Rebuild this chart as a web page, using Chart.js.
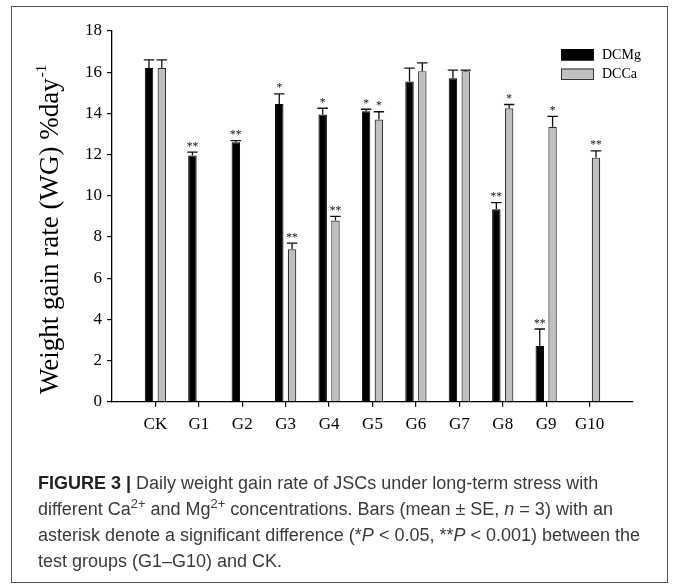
<!DOCTYPE html>
<html><head><meta charset="utf-8">
<script src="https://cdn.jsdelivr.net/npm/chart.js@4.4.1/dist/chart.umd.min.js"></script>
<style>
html,body{margin:0;padding:0;background:#fff;}
#wrap{position:relative;width:675px;height:585px;overflow:hidden;background:#fff;}
#c{position:absolute;left:0;top:0;}
#frame{position:absolute;left:11px;top:6px;width:657px;height:577px;border:1.5px solid #555;box-sizing:border-box;pointer-events:none;}
#cap{position:absolute;left:38px;top:471px;font-family:"Liberation Sans",Arial,sans-serif;font-size:18px;line-height:25.5px;color:#3a3a3a;white-space:nowrap;}
#cap b{color:#222;}
#cap sup{font-size:0.72em;vertical-align:baseline;position:relative;top:-0.5em;}
</style></head><body>
<div id="wrap">
<canvas id="c" width="675" height="585"></canvas>
<div id="frame"></div>
<div id="cap"><b>FIGURE 3 |</b> Daily weight gain rate of JSCs under long-term stress with<br>different Ca<sup>2+</sup> and Mg<sup>2+</sup> concentrations. Bars (mean ± SE, <i>n</i> = 3) with an<br>asterisk denote a significant difference (*<i>P</i> &lt; 0.05, **<i>P</i> &lt; 0.001) between the<br>test groups (G1–G10) and CK.</div>
</div>
<script>
const categories = ['CK','G1','G2','G3','G4','G5','G6','G7','G8','G9','G10'];
const dcmgValues = [16.2, 11.95, 12.6, 14.45, 13.95, 14.1, 15.55, 15.7, 9.35, 2.7, null];
const dcmgErrors = [0.4, 0.17, 0.08, 0.5, 0.3, 0.1, 0.65, 0.4, 0.32, 0.83, null];
const dcmgSig    = ['', '**', '**', '*', '*', '*', '', '', '**', '**', ''];
const dccaValues = [16.2, null, null, 7.4, 8.8, 13.7, 16.05, 16.05, 14.25, 13.35, 11.85];
const dccaErrors = [0.4, null, null, 0.3, 0.2, 0.38, 0.4, 0.05, 0.18, 0.5, 0.33];
const dccaSig    = ['', '', '', '**', '**', '*', '', '', '*', '*', '**'];
const yMin = 0, yMax = 18, yStep = 2;
const yTitle = 'Weight gain rate (WG) %day';
const yTitleSup = '-1';

const pad = a => [null, ...a, null];
const labels = ['', ...categories, ''];

const SERIF = '"Liberation Serif","Times New Roman",serif';

const errPlugin = {
  id: 'errbars',
  afterDatasetsDraw(chart) {
    const ctx = chart.ctx, ys = chart.scales.y;
    chart.data.datasets.forEach((ds, di) => {
      const meta = chart.getDatasetMeta(di);
      meta.data.forEach((bar, i) => {
        const v = ds.data[i], e = ds.errors[i];
        if (v == null || e == null) return;
        const yv = ys.getPixelForValue(v), ye = ys.getPixelForValue(v + e);
        const x = bar.x, w = bar.width + 2;
        ctx.save();
        ctx.strokeStyle = '#111'; ctx.lineWidth = 1.3;
        ctx.beginPath();
        ctx.moveTo(x, yv); ctx.lineTo(x, ye);
        ctx.moveTo(x - w/2, ye); ctx.lineTo(x + w/2, ye);
        ctx.stroke();
        const s = ds.sig[i];
        if (s) {
          ctx.fillStyle = '#111';
          ctx.font = '11.5px ' + SERIF;
          ctx.textAlign = 'center'; ctx.textBaseline = 'alphabetic';
          ctx.fillText(s, x, ye - 2.5);
        }
        ctx.restore();
      });
    });
  }
};

const decoPlugin = {
  id: 'deco',
  afterDraw(chart) {
    const ctx = chart.ctx;
    // y axis title with superscript
    ctx.save();
    ctx.translate(58, 394);
    ctx.rotate(-Math.PI/2);
    ctx.fillStyle = '#000';
    ctx.font = '27px ' + SERIF;
    ctx.textAlign = 'left'; ctx.textBaseline = 'alphabetic';
    ctx.fillText(yTitle, 0, 0);
    const w = ctx.measureText(yTitle).width;
    ctx.font = '15px ' + SERIF;
    ctx.fillText(yTitleSup, w + 1, -12);
    ctx.restore();
    // legend
    ctx.save();
    chart.data.datasets.forEach((ds, i) => {
      const bx = 561, by = 49 + i * 19.5, bw = 33, bh = 11.5;
      ctx.fillStyle = ds.backgroundColor;
      ctx.fillRect(bx, by, bw, bh);
      ctx.strokeStyle = ds.borderColor; ctx.lineWidth = 1;
      ctx.strokeRect(bx + 0.5, by + 0.5, bw - 1, bh - 1);
      ctx.fillStyle = '#000';
      ctx.font = '14px ' + SERIF;
      ctx.textAlign = 'left'; ctx.textBaseline = 'middle';
      ctx.fillText(ds.label, 602, by + bh/2 + 0.5);
    });
    ctx.restore();
  }
};

new Chart(document.getElementById('c'), {
  type: 'bar',
  data: {
    labels: labels,
    datasets: [
      { label: 'DCMg', data: pad(dcmgValues), errors: pad(dcmgErrors), sig: pad(dcmgSig),
        backgroundColor: '#000', borderColor: '#000', borderWidth: 1 },
      { label: 'DCCa', data: pad(dccaValues), errors: pad(dccaErrors), sig: pad(dccaSig),
        backgroundColor: '#c0c0c0', borderColor: '#333', borderWidth: 1.2 }
    ]
  },
  options: {
    responsive: false, animation: false, devicePixelRatio: 1,
    categoryPercentage: 0.59, barPercentage: 0.66,
    layout: { padding: { left: 0, top: 31, right: 42, bottom: 143.3 } },
    plugins: { legend: { display: false }, tooltip: { enabled: false } },
    scales: {
      x: {
        type: 'category', offset: false,
        grid: { offset: false, drawOnChartArea: false, drawTicks: true, tickLength: 5,
                tickColor: c => (c.index === 0 || c.index === labels.length - 1) ? 'rgba(0,0,0,0)' : '#000',
                lineWidth: 1.2 },
        border: { color: '#000', width: 1.3 },
        ticks: { color: '#000', font: { family: SERIF, size: 17 }, padding: 8, autoSkip: false, maxRotation: 0 },
        afterFit: s => { s.height = 40; }
      },
      y: {
        min: yMin, max: yMax,
        grid: { drawOnChartArea: false, drawTicks: true, tickLength: 5, tickColor: '#000', lineWidth: 1.2 },
        border: { color: '#000', width: 1.3 },
        ticks: { stepSize: yStep, color: '#000', font: { family: SERIF, size: 17 }, padding: 5 },
        afterFit: s => { s.width = 112; }
      }
    }
  },
  plugins: [errPlugin, decoPlugin]
});
</script>
</body></html>
